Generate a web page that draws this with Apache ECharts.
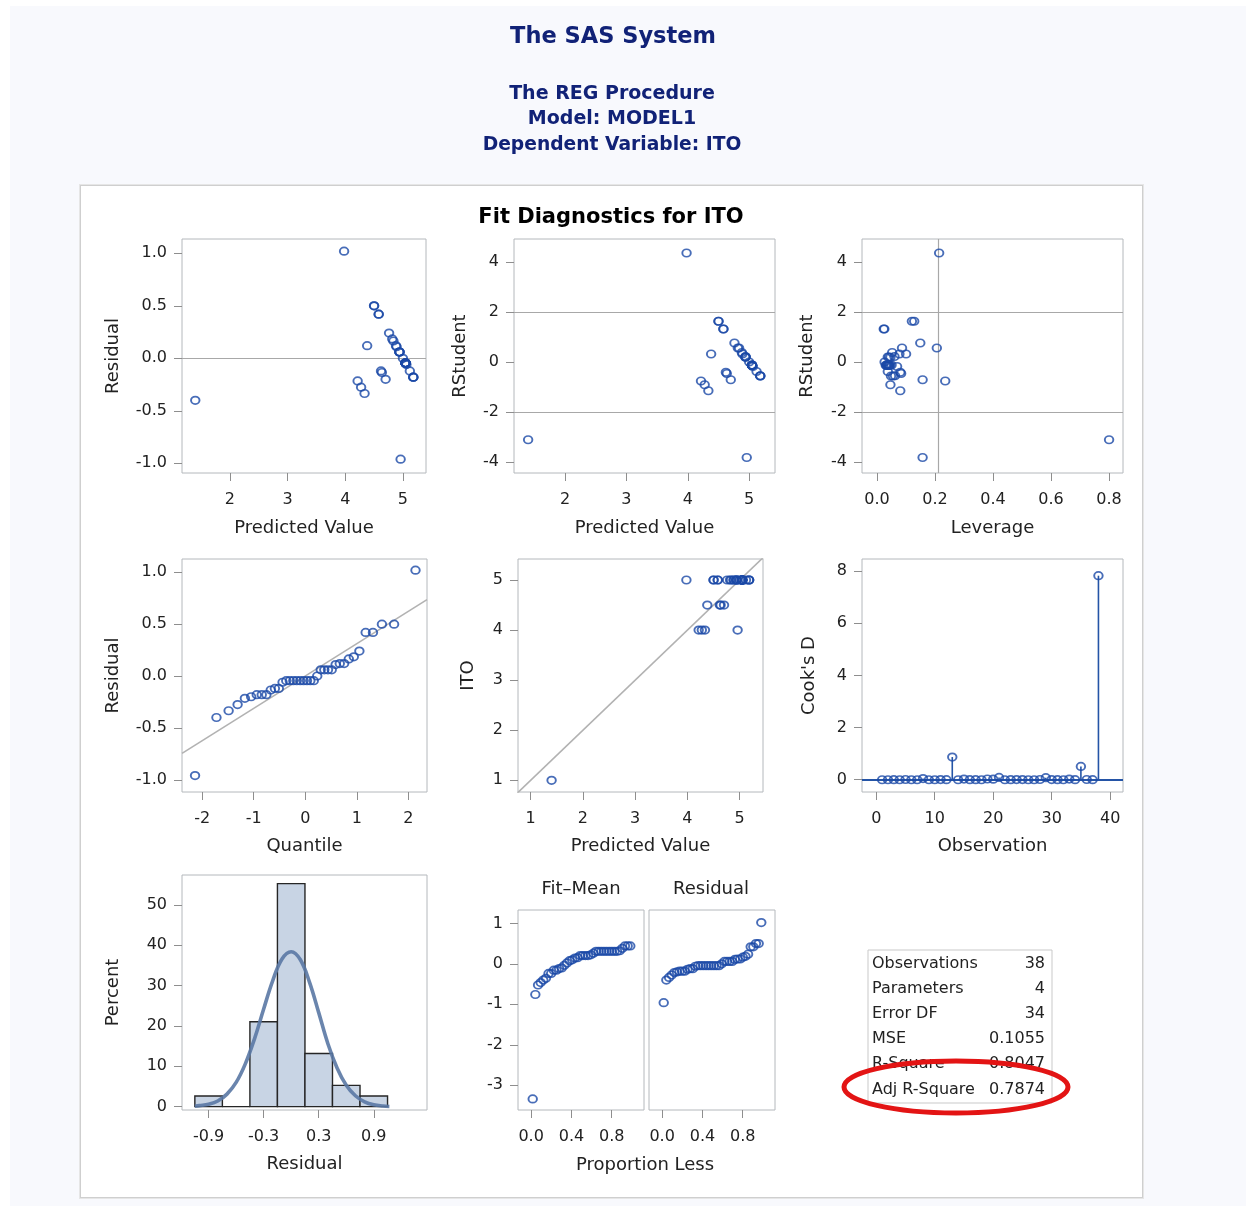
<!DOCTYPE html>
<html>
<head>
<meta charset="utf-8">
<script src="https://cdn.jsdelivr.net/npm/echarts@6/dist/echarts.min.js"></script>
<style>
html,body{margin:0;padding:0;background:#ffffff;}
#bg{position:absolute;left:10px;top:6px;width:1236px;height:1200px;background:#f8f9fd;}
#panel{position:absolute;left:80px;top:185px;width:1061px;height:1011px;background:#ffffff;border:1px solid #cfcfcf;box-shadow:0 0 0 1px #e6e6e6;}
#c{position:absolute;left:0;top:0;width:1250px;height:1206px;}
</style>
</head>
<body>
<div id="bg"></div>
<div id="panel"></div>
<div id="c"></div>
<script>
// ---------------- data ----------------
// per observation, in observation order 1..38
const ito = [5,5,5,5,5,5,5,4,5,5,5,4.5,5,5,5,5,4.5,5,4,5,5,5,5,4.5,5,5,5,4,5,5,5,5,4.5,5,4,5,5,1];
const predicted = [5.045,4.94,5.18,5.045,4.58,5.045,4.94,4.215,5.045,5.00,5.18,4.38,3.98,5.045,4.76,4.94,4.62,5.045,4.335,4.815,4.50,5.045,4.88,4.635,5.18,4.94,5.045,4.275,4.50,4.835,4.89,5.045,4.70,5.06,4.96,4.58,5.12,1.40];
const residual = [-0.045,0.06,-0.18,-0.045,0.42,-0.045,0.06,-0.215,-0.045,0.00,-0.18,0.12,1.02,-0.045,0.24,0.06,-0.12,-0.045,-0.335,0.185,0.50,-0.045,0.12,-0.135,-0.18,0.06,-0.045,-0.275,0.50,0.165,0.11,-0.045,-0.20,-0.06,-0.96,0.42,-0.12,-0.40];
const rstudent = [-0.14,0.19,-0.57,-0.14,1.31,-0.14,0.18,-0.77,-0.14,-0.01,-0.57,0.31,4.35,-0.14,0.75,0.21,-0.42,-0.13,-1.16,0.55,1.62,-0.14,0.37,-0.47,-0.56,0.19,-0.15,-0.92,1.62,0.55,0.31,-0.14,-0.72,-0.19,-3.83,1.31,-0.39,-3.12];
const leverage = [0.030,0.037,0.048,0.034,0.023,0.040,0.046,0.235,0.045,0.026,0.055,0.077,0.214,0.036,0.149,0.060,0.080,0.050,0.080,0.206,0.120,0.032,0.052,0.083,0.062,0.041,0.042,0.046,0.128,0.086,0.100,0.038,0.157,0.069,0.157,0.025,0.037,0.800];
const cooksD = [0.000,0.000,0.004,0.000,0.010,0.000,0.000,0.046,0.000,0.000,0.005,0.002,0.870,0.000,0.025,0.001,0.004,0.000,0.029,0.020,0.090,0.000,0.002,0.005,0.005,0.000,0.000,0.010,0.080,0.007,0.003,0.000,0.024,0.001,0.510,0.010,0.003,7.820];
// normal quantiles and proportions for ranks 1..38 (QQ and RF plots)
const normalQuantile = [-2.137,-1.722,-1.486,-1.312,-1.171,-1.049,-0.941,-0.844,-0.754,-0.669,-0.589,-0.513,-0.440,-0.369,-0.300,-0.232,-0.165,-0.098,-0.033,0.033,0.098,0.165,0.232,0.300,0.369,0.440,0.513,0.589,0.669,0.754,0.844,0.941,1.049,1.171,1.312,1.486,1.722,2.137];
const proportionLess = [0.016,0.042,0.069,0.095,0.121,0.147,0.173,0.199,0.225,0.252,0.278,0.304,0.330,0.356,0.382,0.408,0.435,0.461,0.487,0.513,0.539,0.565,0.592,0.618,0.644,0.670,0.696,0.722,0.748,0.775,0.801,0.827,0.853,0.879,0.905,0.931,0.958,0.984];
// histogram of residuals
const binCenters = [-0.9,-0.6,-0.3,0.0,0.3,0.6,0.9];
const binPercent = [2.63,0,21.05,55.26,13.16,5.26,2.63];
const binWidth = 0.3;
// normal density curve
const curveX =   [-1.05,-1.0,-0.9,-0.8,-0.7,-0.6,-0.5,-0.4,-0.3,-0.2,-0.1,0.0,0.1,0.2,0.3,0.4,0.5,0.6,0.7,0.8,0.9,1.0,1.07];
const curvePct = [0.1,0.25,0.6,1.4,3.1,6.0,10.6,16.8,24.2,31.3,36.6,38.4,36.4,30.8,23.3,15.6,9.6,5.3,2.7,1.2,0.45,0.15,0.05];
// reference lines
const qqLineX = [-2.39, 2.36];
const qqLineY = [-0.746, 0.736];
const diagLine = [0.6, 5.6];
const rstudentLimits = [-2, 2];
const leverageCutoff = 0.2105;
// tick values
const predTicks = [2,3,4,5];
const residTicks = [-1,-0.5,0,0.5,1];
const rstudTicks = [-4,-2,0,2,4];
const levTicks = [0,0.2,0.4,0.6,0.8];
const quantTicks = [-2,-1,0,1,2];
const itoTicks = [1,2,3,4,5];
const obsTicks = [0,10,20,30,40];
const cookTicks = [0,2,4,6,8];
const histXTicks = [-0.9,-0.3,0.3,0.9];
const pctTicks = [0,10,20,30,40,50];
const propTicks = [0,0.4,0.8];
const rfYTicks = [-3,-2,-1,0,1];
// fit statistics table
const fitStatLabels = ['Observations','Parameters','Error DF','MSE','R-Square','Adj R-Square'];
const fitStatValues = ['38','4','34','0.1055','0.8047','0.7874'];

// ---------------- styling helpers ----------------
const FONT = "'DejaVu Sans', 'Liberation Sans', Arial, sans-serif";
const BLUE = '#1a48a6';
const REF = '#a8a8a8';
const FRAME = '#b4b8bc';
const f1 = v => v.toFixed(1);
const f0 = v => String(v);

function grid(l, t, w, h) {
  return {left: l, top: t, width: w, height: h, show: true, borderColor: FRAME, borderWidth: 1,
          backgroundColor: 'rgba(0,0,0,0)', containLabel: false, outerBoundsMode: 'none'};
}
function axis(gi, range, ticks, fmt, name, gap, show, margin) {
  if (show === undefined) show = true;
  return {
    type: 'value', gridIndex: gi, min: range[0], max: range[1], scale: true,
    name: name || '', nameLocation: 'middle', nameGap: gap || 0,
    nameTextStyle: {fontFamily: FONT, fontSize: 18, color: '#222'},
    axisLine: {show: false, onZero: false}, splitLine: {show: false},
    axisTick: {show: show, length: 8, customValues: ticks, lineStyle: {color: '#8e8e8e', width: 1}},
    axisLabel: {show: show, customValues: ticks, formatter: fmt, fontFamily: FONT, fontSize: 16, color: '#222', margin: margin || 15},
    axisPointer: {show: false}
  };
}
function scat(i, data, extra) {
  const s = {type: 'scatter', xAxisIndex: i, yAxisIndex: i, data: data, symbol: 'circle', symbolSize: [8.5, 7.5],
    itemStyle: {color: 'rgba(255,255,255,0)', borderColor: BLUE, borderWidth: 1.8},
    silent: true, animation: false, z: 5, emphasis: {disabled: true}};
  return Object.assign(s, extra || {});
}
function ml(list, color, width) {
  return {silent: true, symbol: ['none', 'none'], label: {show: false}, animation: false,
    lineStyle: {color: color || REF, width: width || 1.2, type: 'solid'}, emphasis: {disabled: true}, data: list};
}

// derived views of the data
const pairs = (a, b) => a.map((v, i) => [v, b[i]]);
const residSorted = residual.slice().sort((a, b) => a - b);
const meanITO = ito.reduce((s, v) => s + v, 0) / ito.length;
const fitMeanSorted = predicted.map(p => p - meanITO).sort((a, b) => a - b);

const grids = [
  grid(182, 239, 244, 234),  // 0 residual vs predicted
  grid(514, 239, 261, 234),  // 1 rstudent vs predicted
  grid(862, 239, 261, 234),  // 2 rstudent vs leverage
  grid(182, 559, 245, 233),  // 3 QQ
  grid(518, 559, 245, 233),  // 4 ITO vs predicted
  grid(862, 559, 261, 233),  // 5 Cook's D
  grid(182, 875, 245, 235),  // 6 histogram
  grid(518, 910, 126, 200),  // 7 RF fit-mean
  grid(649, 910, 126, 200)   // 8 RF residual
];

const XM = 19;
const xAxes = [
  axis(0, [1.17, 5.40], predTicks, f0, 'Predicted Value', 46, true, XM),
  axis(1, [1.17, 5.42], predTicks, f0, 'Predicted Value', 46, true, XM),
  axis(2, [-0.052, 0.848], levTicks, f1, 'Leverage', 46, true, XM),
  axis(3, [-2.39, 2.36], quantTicks, f0, 'Quantile', 45, true, XM),
  axis(4, [0.757, 5.446], itoTicks, f0, 'Predicted Value', 45, true, XM),
  axis(5, [-2.44, 42.2], obsTicks, f0, 'Observation', 45, true, XM),
  axis(6, [-1.19, 1.48], histXTicks, f1, 'Residual', 45, true, XM),
  axis(7, [-0.13, 1.12], propTicks, f1, '', 0, true, XM),
  axis(8, [-0.13, 1.12], propTicks, f1, '', 0, true, XM)
];
const yAxes = [
  axis(0, [-1.092, 1.136], residTicks, f1, 'Residual', 60),
  axis(1, [-4.45, 4.91], rstudTicks, f0, 'RStudent', 45),
  axis(2, [-4.45, 4.91], rstudTicks, f0, 'RStudent', 46),
  axis(3, [-1.118, 1.128], residTicks, f1, 'Residual', 60),
  axis(4, [0.766, 5.42], itoTicks, f0, 'ITO', 41),
  axis(5, [-0.47, 8.46], cookTicks, f0, "Cook's D", 44),
  axis(6, [-0.83, 57.4], pctTicks, f0, 'Percent', 60),
  axis(7, [-3.61, 1.33], rfYTicks, f0, '', 0),
  axis(8, [-3.61, 1.33], rfYTicks, f0, '', 0, false)
];

const series = [
  scat(0, pairs(predicted, residual), {markLine: ml([{yAxis: 0}])}),
  scat(1, pairs(predicted, rstudent), {markLine: ml(rstudentLimits.map(v => ({yAxis: v})))}),
  scat(2, pairs(leverage, rstudent), {markLine: ml(rstudentLimits.map(v => ({yAxis: v})).concat([{xAxis: leverageCutoff}]))}),
  {type: 'line', xAxisIndex: 3, yAxisIndex: 3, data: pairs(qqLineX, qqLineY), showSymbol: false, symbol: 'none',
   lineStyle: {color: '#b2b2b2', width: 1.6}, silent: true, animation: false, clip: true, z: 3},
  scat(3, pairs(normalQuantile, residSorted)),
  {type: 'line', xAxisIndex: 4, yAxisIndex: 4, data: pairs(diagLine, diagLine), showSymbol: false, symbol: 'none',
   lineStyle: {color: '#b2b2b2', width: 1.6}, silent: true, animation: false, clip: true, z: 3},
  scat(4, pairs(predicted, ito)),
  {type: 'custom', xAxisIndex: 5, yAxisIndex: 5, data: cooksD.map((d, i) => [i + 1, d]), silent: true, animation: false, z: 4,
   encode: {x: 0, y: 1},
   renderItem: function (params, api) {
     const a = api.coord([api.value(0), 0]);
     const b = api.coord([api.value(0), api.value(1)]);
     return {type: 'line', shape: {x1: a[0], y1: a[1], x2: b[0], y2: b[1]}, style: {stroke: '#2454a6', lineWidth: 1.6}};
   }},
  scat(5, cooksD.map((d, i) => [i + 1, d]), {markLine: ml([{yAxis: 0}], '#2454a6', 1.8)}),
  {type: 'custom', xAxisIndex: 6, yAxisIndex: 6, data: pairs(binCenters, binPercent), silent: true, animation: false, z: 3,
   encode: {x: 0, y: 1},
   renderItem: function (params, api) {
     const x = api.value(0), v = api.value(1);
     const p0 = api.coord([x - binWidth / 2, v]);
     const p1 = api.coord([x + binWidth / 2, 0]);
     return {type: 'rect', shape: {x: p0[0], y: p0[1], width: p1[0] - p0[0], height: p1[1] - p0[1]},
             style: {fill: '#c8d4e4', stroke: '#262626', lineWidth: 1.4}};
   }},
  {type: 'line', xAxisIndex: 6, yAxisIndex: 6, data: pairs(curveX, curvePct), smooth: 0.4, showSymbol: false, symbol: 'none',
   lineStyle: {color: '#5a78a4', width: 3.6, opacity: 0.9}, silent: true, animation: false, z: 4},
  scat(7, pairs(proportionLess, fitMeanSorted)),
  scat(8, pairs(proportionLess, residSorted))
];

function txt(x, y, s, font, fill, align) {
  return {type: 'text', x: x, y: y, z: 50, silent: true,
    style: {text: s, font: font, fill: fill || '#222', textAlign: align || 'center', textVerticalAlign: 'middle',
            align: align || 'center', verticalAlign: 'middle'}};
}
const rowY = [963.5, 988.5, 1013.5, 1038.5, 1063.5, 1089.5];
const graphics = [
  txt(613, 37, 'The SAS System', "bold 22.5px " + FONT, '#112277'),
  txt(612, 94, 'The REG Procedure', "bold 19px " + FONT, '#112277'),
  txt(612, 119, 'Model: MODEL1', "bold 19px " + FONT, '#112277'),
  txt(612, 145, 'Dependent Variable: ITO', "bold 18.7px " + FONT, '#112277'),
  txt(611, 218, 'Fit Diagnostics for ITO', "bold 21px " + FONT, '#000000'),
  txt(581, 889, 'Fit\u2013Mean', "18px " + FONT, '#222'),
  txt(711, 889, 'Residual', "18px " + FONT, '#222'),
  txt(645, 1165, 'Proportion Less', "18px " + FONT, '#222'),
  {type: 'rect', z: 40, silent: true, shape: {x: 868, y: 950, width: 184, height: 153},
   style: {fill: '#ffffff', stroke: '#c9c9c9', lineWidth: 1}}
];
fitStatLabels.forEach((l, i) => {
  graphics.push(txt(872, rowY[i], l, "16px " + FONT, '#222', 'left'));
  graphics.push(txt(1045, rowY[i], fitStatValues[i], "16px " + FONT, '#222', 'right'));
});
graphics.push({type: 'ellipse', z: 60, silent: true, shape: {cx: 956, cy: 1087, rx: 112, ry: 26},
  style: {fill: 'none', stroke: '#e31414', lineWidth: 5}});

const chart = echarts.init(document.getElementById('c'), null, {renderer: 'canvas'});
chart.setOption({
  backgroundColor: 'transparent',
  animation: false,
  textStyle: {fontFamily: FONT},
  grid: grids,
  xAxis: xAxes,
  yAxis: yAxes,
  series: series,
  graphic: graphics
});
</script>
</body>
</html>
